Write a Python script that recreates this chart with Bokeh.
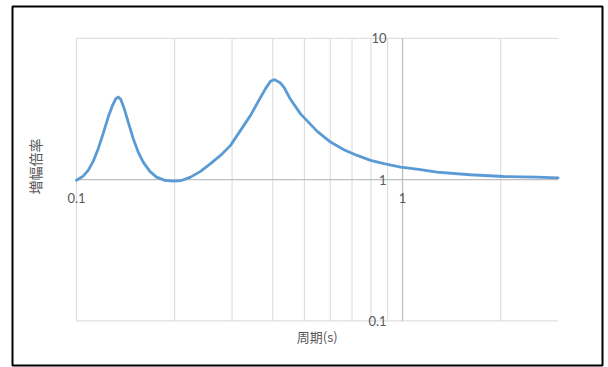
import math
from bokeh.plotting import figure
from bokeh.models import Range1d, Label
from bokeh.embed import file_html
from bokeh.resources import INLINE

# ---- data ----
period = [0.1000, 0.1048, 0.1086, 0.1125, 0.1166, 0.1207, 0.1251, 0.1290, 0.1320,
          0.1342, 0.1367, 0.1401, 0.1441, 0.1493, 0.1546, 0.1602, 0.1679, 0.1760,
          0.1866, 0.1981, 0.2099, 0.2237, 0.2401, 0.2577, 0.2765, 0.2968, 0.3185,
          0.3418, 0.3625, 0.3800, 0.3936, 0.4049, 0.4224, 0.4323, 0.4532, 0.4864,
          0.5474, 0.6015, 0.6607, 0.7261, 0.7978, 0.8762, 0.9860, 1.122, 1.275,
          1.612, 2.039, 2.581, 3.0]
amp = [0.990, 1.059, 1.162, 1.346, 1.655, 2.114, 2.771, 3.354, 3.741,
       3.840, 3.698, 3.178, 2.555, 1.949, 1.566, 1.330, 1.143, 1.041,
       0.987, 0.975, 0.985, 1.041, 1.143, 1.296, 1.483, 1.747, 2.231,
       2.849, 3.638, 4.404, 4.961, 5.100, 4.825, 4.520, 3.700, 2.920,
       2.194, 1.843, 1.628, 1.483, 1.368, 1.296, 1.226, 1.181, 1.130,
       1.082, 1.052, 1.040, 1.030]

x_min, x_max = 0.1, 3.0
y_min, y_max = 0.1, 10.0
x_grid = [0.1, 0.2, 0.3, 0.4, 0.5, 0.6, 0.7, 0.8, 0.9, 1.0, 2.0]
y_grid = [0.1, 10.0]
x_tick_vals = [0.1, 1.0]
x_tick_labels = ["0.1", "1"]
y_tick_vals = [10.0, 1.0, 0.1]
y_tick_labels = ["10", "1", "0.1"]
x_title = "周期(s)"
y_title = "増幅倍率"
cross_x = 1.0
cross_y = 1.0

# ---- layout (pixels) ----
W, H = 608, 367
BOX_L, BOX_R, BOX_T, BOX_B = 12, 602, 6, 365      # outer chart border
PLOT_L, PLOT_R = 76, 557.6                         # x = x_min .. x_max
PLOT_T, PLOT_B = 37.8, 320.4                       # y = y_max .. y_min

kx = (PLOT_R - PLOT_L) / (math.log10(x_max) - math.log10(x_min))
ky = (PLOT_B - PLOT_T) / (math.log10(y_max) - math.log10(y_min))
xr = Range1d(10 ** (math.log10(x_min) - (PLOT_L - BOX_L) / kx),
             10 ** (math.log10(x_max) + (BOX_R - PLOT_R) / kx))
yr = Range1d(10 ** (math.log10(y_min) - (BOX_B - PLOT_B) / ky),
             10 ** (math.log10(y_max) + (PLOT_T - BOX_T) / ky))

TXT = "#595959"
NUM_FONT = "Lato"
CJK_FONT = "Noto Sans CJK JP"

p = figure(width=W, height=H, x_axis_type="log", y_axis_type="log",
           x_range=xr, y_range=yr,
           x_axis_location=None, y_axis_location=None,
           output_backend="svg", toolbar_location=None,
           min_border_left=BOX_L, min_border_right=W - BOX_R,
           min_border_top=BOX_T, min_border_bottom=H - BOX_B)
p.outline_line_color = "black"
p.outline_line_width = 2
p.background_fill_color = "white"
p.border_fill_color = "white"
p.grid.visible = False

GRID = "#D9D9D9"
AXIS = "#BFBFBF"
p.segment(x0=x_grid, y0=[y_min] * len(x_grid), x1=x_grid, y1=[y_max] * len(x_grid),
          line_color=GRID, line_width=1)
p.segment(x0=[x_min] * len(y_grid), y0=y_grid, x1=[x_max] * len(y_grid), y1=y_grid,
          line_color=GRID, line_width=1)
p.segment(x0=[x_min], y0=[cross_y], x1=[x_max], y1=[cross_y], line_color=AXIS, line_width=1.3)
p.segment(x0=[cross_x], y0=[y_min], x1=[cross_x], y1=[y_max], line_color=AXIS, line_width=1.3)

p.line(period, amp, line_color="#5B9BD5", line_width=2.8, line_join="round", line_cap="round")

for v, t in zip(y_tick_vals, y_tick_labels):
    p.add_layout(Label(x=cross_x, y=v, text=t, x_offset=-16, text_align="right",
                       text_baseline="middle", text_font=NUM_FONT,
                       text_font_size="13px", text_color=TXT))
for v, t in zip(x_tick_vals, x_tick_labels):
    p.add_layout(Label(x=v, y=cross_y, text=t, y_offset=-18, text_align="center",
                       text_baseline="middle", text_font=NUM_FONT,
                       text_font_size="13px", text_color=TXT))

p.add_layout(Label(x=math.sqrt(x_min * x_max), y=y_min, text=x_title, y_offset=-16,
                   text_align="center", text_baseline="middle", text_font=CJK_FONT,
                   text_font_size="13px", text_color=TXT))
p.add_layout(Label(x=x_min, y=math.sqrt(y_min * y_max), text=y_title, x_offset=-42,
                   y_offset=13, angle=math.pi / 2, text_align="center",
                   text_baseline="middle", text_font=CJK_FONT,
                   text_font_size="14px", text_color=TXT))

open("out.html", "w").write(file_html(p, INLINE))
